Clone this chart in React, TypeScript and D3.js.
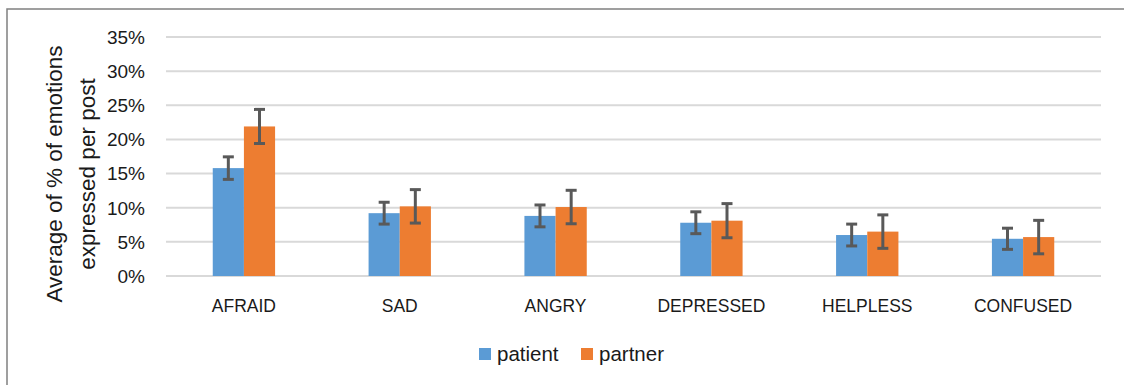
import React from "react";
import * as d3 from "d3";

const categories = ["AFRAID", "SAD", "ANGRY", "DEPRESSED", "HELPLESS", "CONFUSED"];
const seriesNames = ["patient", "partner"];
const patientValues = [15.8, 9.2, 8.8, 7.8, 6.0, 5.45];
const partnerValues = [21.9, 10.2, 10.1, 8.1, 6.5, 5.7];
const patientErrors = [1.65, 1.6, 1.6, 1.6, 1.6, 1.55];
const partnerErrors = [2.5, 2.45, 2.45, 2.5, 2.45, 2.45];
const yTicks = [0, 5, 10, 15, 20, 25, 30, 35];

const colors = ["#5B9BD5", "#ED7D31"];
const FONT = "'Liberation Sans', Arial, sans-serif";

export default function App() {
  const W = 1124;
  const H = 385;
  const left = 166;
  const right = 1101;
  const top = 37;
  const bottom = 276;

  const y = d3.scaleLinear().domain([0, 35]).range([bottom, top]);
  const x = d3.scaleBand<string>().domain(categories).range([left, right]).padding(0);
  const bw = x.bandwidth();
  const xs = d3
    .scaleBand<string>()
    .domain(seriesNames)
    .range([bw * 0.3, bw * 0.7])
    .padding(0);

  const data = [
    { name: "patient", values: patientValues, errs: patientErrors },
    { name: "partner", values: partnerValues, errs: partnerErrors },
  ];

  return (
    <svg
      width={W}
      height={H}
      style={{ position: "absolute", left: 0, top: 0, background: "#fff" }}
      fontFamily={FONT}
    >
      <rect x={7} y={9} width={1200} height={500} fill="none" stroke="#808080" strokeWidth={1.5} />
      {yTicks.map((t) => (
        <g key={t}>
          <line x1={left} x2={right} y1={y(t)} y2={y(t)} stroke="#D9D9D9" strokeWidth={2} />
          <text x={145} y={y(t)} dy="0.36em" textAnchor="end" fontSize={19} fill="#1a1a1a">
            {t}%
          </text>
        </g>
      ))}
      {data.map((s, si) =>
        categories.map((c, ci) => {
          const bx = (x(c) ?? 0) + (xs(s.name) ?? 0);
          const w = xs.bandwidth();
          const v = s.values[ci];
          const e = s.errs[ci];
          const cx = bx + w / 2;
          return (
            <g key={s.name + c}>
              <rect x={bx} y={y(v)} width={w} height={y(0) - y(v)} fill={colors[si]} />
              <line x1={cx} x2={cx} y1={y(v + e)} y2={y(v - e)} stroke="#595959" strokeWidth={3} />
              <line x1={cx - 5.5} x2={cx + 5.5} y1={y(v + e)} y2={y(v + e)} stroke="#595959" strokeWidth={3} />
              <line x1={cx - 5.5} x2={cx + 5.5} y1={y(v - e)} y2={y(v - e)} stroke="#595959" strokeWidth={3} />
            </g>
          );
        })
      )}
      {categories.map((c) => (
        <text key={c} x={(x(c) ?? 0) + bw / 2} y={312} textAnchor="middle" fontSize={17.5} fill="#1a1a1a">
          {c}
        </text>
      ))}
      <text
        transform={`translate(54,174) rotate(-90)`}
        textAnchor="middle"
        dy="0.35em"
        fontSize={22.5}
        fill="#1a1a1a"
      >
        Average of % of emotions
      </text>
      <text
        transform={`translate(87,174) rotate(-90)`}
        textAnchor="middle"
        dy="0.35em"
        fontSize={22.5}
        fill="#1a1a1a"
      >
        expressed per post
      </text>
      <g>
        <rect x={479} y={348} width={12} height={12} fill={colors[0]} />
        <text x={497} y={361} fontSize={20.5} fill="#1a1a1a">
          {seriesNames[0]}
        </text>
        <rect x={581} y={348} width={12} height={12} fill={colors[1]} />
        <text x={599} y={361} fontSize={20.5} fill="#1a1a1a">
          {seriesNames[1]}
        </text>
      </g>
    </svg>
  );
}
